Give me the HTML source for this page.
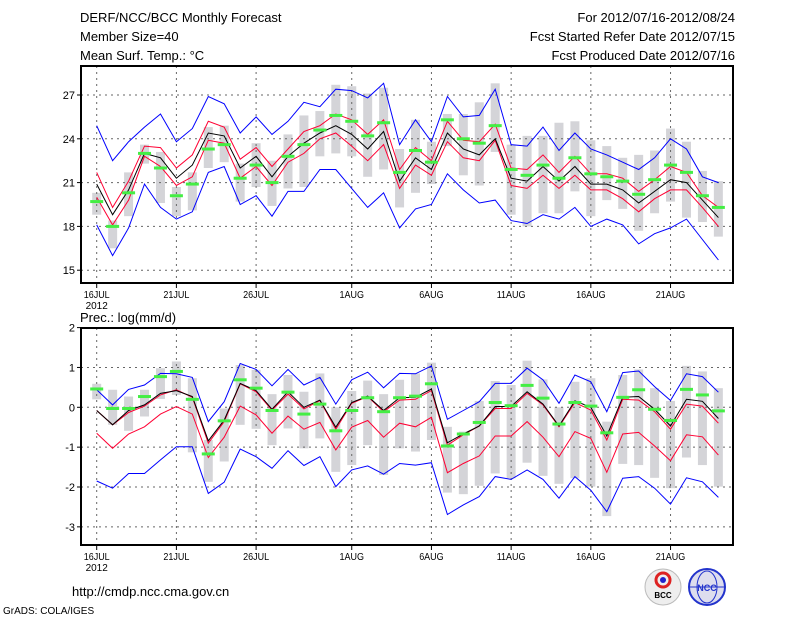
<!DOCTYPE html>
<html><head><meta charset="utf-8"><style>
body{margin:0;background:#fff;width:800px;height:618px;overflow:hidden}
svg{display:block}
text{font-family:"Liberation Sans",sans-serif;fill:#000}
</style></head><body>
<svg id="c" width="800" height="618" viewBox="0 0 800 618">
<g font-size="13">
<text x="80" y="22">DERF/NCC/BCC Monthly Forecast</text>
<text x="80" y="41">Member Size=40</text>
<text x="80" y="60">Mean Surf. Temp.: °C</text>
<text x="735" y="22" text-anchor="end">For 2012/07/16-2012/08/24</text>
<text x="735" y="41" text-anchor="end">Fcst Started Refer Date 2012/07/15</text>
<text x="735" y="60" text-anchor="end">Fcst Produced Date 2012/07/16</text>
<text x="80" y="322" font-size="13">Prec.: log(mm/d)</text>
</g>
<text x="72" y="596" font-size="13">http://cmdp.ncc.cma.gov.cn</text>
<text x="3" y="614" font-size="10">GrADS: COLA/IGES</text>
<g><circle cx="663" cy="587" r="18" fill="#eee" stroke="#bbb"/><circle cx="663" cy="580" r="7" fill="none" stroke="#d22" stroke-width="3"/><circle cx="663" cy="580" r="3" fill="#22c"/><text x="663" y="598" font-size="8" text-anchor="middle" font-weight="bold">BCC</text></g>
<g><circle cx="707" cy="587" r="18" fill="#dde" stroke="#23c" stroke-width="2"/><ellipse cx="707" cy="587" rx="10" ry="16" fill="none" stroke="#23c"/><line x1="689" y1="587" x2="725" y2="587" stroke="#23c"/><text x="707" y="591" font-size="9" text-anchor="middle" font-weight="bold" style="fill:#23c">NCC</text></g>
<g id="top"></g><g id="bot"></g>
</svg>
<script>
var dayLabels=["16JUL","21JUL","26JUL","1AUG","6AUG","11AUG","16AUG","21AUG"];
var labelDays=[0,5,10,16,21,26,31,36];
var tTicks=[15,18,21,24,27];
var pTicks=[-3,-2,-1,0,1,2];
var tMax=[24.9,22.5,23.8,24.8,25.7,23.8,24.7,26.9,26.4,24.4,25.5,24.3,25.2,26.5,26.2,27.4,27.3,26.8,27.8,23.6,25.3,23.8,26.9,25.5,25.6,27.4,23.6,23.5,24.8,23.2,24.4,23.3,22.9,22.4,21.9,22.7,24.0,23.3,21.4,21.0];
var tMin=[18.1,16.0,17.9,20.9,19.3,18.5,19.0,21.7,22.1,19.5,20.1,18.7,20.4,20.4,21.9,21.9,20.6,19.3,20.3,17.9,19.2,19.5,21.6,20.5,19.6,19.8,18.4,18.2,18.8,18.5,19.3,18.0,18.5,18.1,16.8,17.5,17.9,18.5,17.1,15.7];
var tUp=[21.7,19.3,21.1,23.5,23.4,22.0,22.9,25.2,24.8,22.6,23.4,22.1,23.3,24.5,24.9,25.7,25.3,24.3,25.3,21.9,23.4,22.5,25.2,23.9,23.8,25.0,22.0,21.9,22.9,21.7,22.8,21.6,21.6,21.3,20.4,21.2,22.1,21.7,20.1,19.3];
var tLow=[20.0,18.1,19.8,22.8,22.1,20.8,21.4,23.9,23.7,21.3,22.1,20.8,22.4,23.0,24.0,24.4,23.5,22.5,23.6,20.6,22.2,21.5,23.8,22.7,22.5,23.9,20.8,20.6,21.5,20.6,21.5,20.5,20.5,19.9,19.0,19.9,20.5,20.5,19.3,18.0];
var tMean=[20.9,18.8,20.5,23.0,22.7,21.3,22.2,24.4,24.2,22.0,22.8,21.4,22.8,23.7,24.4,24.9,24.3,23.3,24.5,21.1,22.7,21.9,24.4,23.3,22.9,24.0,21.3,21.1,22.1,21.1,22.1,20.9,20.9,20.5,19.6,20.4,21.2,21.0,19.8,18.6];
var tObs=[19.7,18.0,20.3,23.0,22.0,20.1,20.9,23.3,23.6,21.3,22.2,21.0,22.8,23.6,24.6,25.6,25.2,24.2,25.1,21.7,23.2,22.4,25.3,24.0,23.7,24.9,21.9,21.5,22.2,21.3,22.7,21.6,21.4,21.1,20.2,21.2,22.2,21.7,20.1,19.3];
var tBoxHi=[20.3,18.4,21.7,23.6,23.1,20.7,21.7,24.8,24.9,22.3,23.7,22.5,24.3,25.6,25.9,27.7,27.6,27.1,27.5,23.3,25.3,23.8,25.7,25.7,26.5,27.8,23.6,24.2,24.2,25.1,25.2,23.9,23.5,22.7,22.9,23.2,24.7,23.8,21.8,21.1];
var tBoxLo=[18.8,16.5,18.7,22.3,19.6,18.7,19.1,22.0,22.4,19.7,20.7,19.4,20.6,20.7,22.8,23.0,22.8,21.4,21.9,19.3,20.3,20.9,23.5,21.5,20.8,23.1,18.8,18.0,18.9,18.9,20.4,18.7,19.8,19.2,17.7,18.9,19.7,18.6,18.3,17.3];
var pMax=[0.44,0.06,0.45,0.56,0.85,0.84,0.75,-0.36,0.14,1.10,0.95,0.54,0.95,0.56,0.75,0.08,0.69,0.88,0.49,0.85,0.84,1.04,-0.30,-0.08,0.14,0.60,0.60,0.98,0.69,0.10,0.81,0.64,-0.11,0.87,0.91,0.52,0.17,0.84,0.77,0.38];
var pMin=[-1.85,-2.03,-1.66,-1.66,-1.32,-0.99,-0.99,-2.16,-1.88,-1.05,-1.24,-1.53,-1.09,-1.46,-1.24,-1.99,-1.57,-1.47,-1.68,-1.41,-1.45,-1.39,-2.69,-2.45,-2.24,-1.74,-1.81,-1.57,-1.81,-2.28,-1.74,-2.08,-2.62,-1.78,-1.74,-2.03,-2.43,-1.77,-1.87,-2.26];
var pUp=[-0.08,-0.44,-0.13,0.03,0.31,0.44,0.25,-0.90,-0.36,0.59,0.39,-0.07,0.33,-0.04,0.17,-0.55,0.10,0.27,-0.11,0.18,0.20,0.42,-0.95,-0.69,-0.47,-0.03,-0.03,0.35,0.06,-0.49,0.12,-0.07,-0.82,0.20,0.18,-0.11,-0.55,0.08,0.03,-0.40];
var pMean=[-0.08,-0.44,-0.08,0.06,0.35,0.42,0.27,-0.84,-0.32,0.60,0.42,-0.05,0.39,0,0.18,-0.50,0.12,0.28,-0.08,0.24,0.25,0.46,-0.89,-0.67,-0.47,0.02,0.02,0.39,0.08,-0.47,0.16,0,-0.72,0.25,0.27,-0.05,-0.47,0.20,0.15,-0.28];
var pLow=[-0.65,-1.03,-0.67,-0.49,-0.17,0.02,-0.17,-1.26,-0.75,0.03,-0.19,-0.65,-0.22,-0.55,-0.38,-1.07,-0.50,-0.33,-0.75,-0.40,-0.49,-0.25,-1.64,-1.41,-1.22,-0.72,-0.72,-0.36,-0.75,-1.24,-0.61,-0.78,-1.63,-0.67,-0.63,-0.97,-1.34,-0.69,-0.74,-1.20];
var pObs=[0.46,-0.03,-0.03,0.27,0.77,0.90,0.20,-1.17,-0.34,0.69,0.48,-0.08,0.38,-0.17,0.08,-0.59,-0.08,0.24,-0.11,0.24,0.28,0.59,-0.97,-0.67,-0.38,0.12,0.04,0.55,0.23,-0.42,0.12,0.03,-0.64,0.25,0.44,-0.05,-0.33,0.45,0.31,-0.09];
var pBoxHi=[0.59,0.44,0.27,0.44,0.98,1.15,0.73,-0.82,-0.03,1.06,0.94,0.33,0.81,0.39,0.85,0,0.41,0.67,0.33,0.69,0.85,1.12,-0.49,-0.61,0.16,0.66,0.56,1.17,0.70,0,0.64,0.73,-0.36,0.81,0.95,0.48,0.16,1.04,0.90,0.48];
var pBoxLo=[0.20,-0.44,-0.59,-0.23,0.21,0.31,-1.13,-1.87,-1.36,-0.44,-0.54,-0.95,-0.53,-1.03,-0.78,-1.62,-1.45,-0.95,-1.70,-1.03,-1.11,-0.82,-2.14,-2.18,-1.97,-1.66,-1.78,-1.39,-1.72,-1.92,-1.78,-1.99,-2.73,-1.42,-1.45,-1.77,-2.03,-1.26,-1.45,-1.99];

var NS="http://www.w3.org/2000/svg";
function mk(parent,tag,attrs){var e=document.createElementNS(NS,tag);for(var k in attrs)e.setAttribute(k,attrs[k]);parent.appendChild(e);return e;}
var L=81,R=733;
function xDay(i){return 96.7+i*15.94;}
function panel(g,top,bot,yOf,ticks,name,ser){
  var clip=mk(g,"clipPath",{id:"clip"+name});mk(clip,"rect",{x:L,y:top,width:R-L,height:bot-top});
  var bars=mk(g,"g",{"clip-path":"url(#clip"+name+")"});
  for(var i=0;i<ser.hi.length;i++){
    var r=mk(bars,"rect",{x:xDay(i)-4.5,y:yOf(ser.hi[i]),width:9,height:yOf(ser.lo[i])-yOf(ser.hi[i]),fill:"#d4d4d8"});
    
    
  }
  ticks.forEach(function(t){var y=yOf(t);if(y>top+2&&y<bot-2){var l=mk(g,"line",{x1:L,x2:R,y1:y,y2:y,stroke:"#666","stroke-dasharray":"2,4","stroke-width":1});
    }
    var tx=mk(g,"text",{x:L-6,y:y+4,"text-anchor":"end","font-size":11});tx.textContent=t;
    
    mk(g,"line",{x1:L-4,x2:L,y1:y,y2:y,stroke:"#000"});});
  labelDays.forEach(function(d,k){var x=xDay(d);
    var l=mk(g,"line",{x1:x,x2:x,y1:top,y2:bot,stroke:"#666","stroke-dasharray":"2,4"});
    
    mk(g,"line",{x1:x,x2:x,y1:bot,y2:bot+5,stroke:"#000"});
    var tx=mk(g,"text",{x:x,y:bot+15,"text-anchor":"middle","font-size":10,transform:"translate("+x+",0) scale(0.9,1) translate("+(-x)+",0)"});tx.textContent=dayLabels[k];
    });
  var yr=mk(g,"text",{x:xDay(0),y:bot+26,"text-anchor":"middle","font-size":10});yr.textContent="2012";
  
  var lines=mk(g,"g",{"clip-path":"url(#clip"+name+")"});
  [[ser.max,"#0000ff","max-line"],[ser.min,"#0000ff","min-line"],[ser.up,"#ff0033","upper-line"],[ser.low,"#ff0033","lower-line"],[ser.mean,"#000","mean-line"]].forEach(function(s){
    var p=s[0].map(function(v,i){return xDay(i).toFixed(1)+","+yOf(v).toFixed(1);}).join(" ");
    var pl=mk(lines,"polyline",{points:p,fill:"none",stroke:s[1],"stroke-width":1});
    });
  for(var i=0;i<ser.obs.length;i++){
    var o=mk(lines,"rect",{x:xDay(i)-6.5,y:yOf(ser.obs[i])-1.5,width:13,height:3,fill:"#44ee44"});
    }
  var fr=mk(g,"rect",{x:L,y:top,width:R-L,height:bot-top,fill:"none",stroke:"#000","stroke-width":2});
  
}
var gt=document.getElementById("top");


panel(gt,66,283,function(v){return 95+(27-v)*14.6;},tTicks,"t",{max:tMax,min:tMin,up:tUp,low:tLow,mean:tMean,obs:tObs,hi:tBoxHi,lo:tBoxLo});
var gb=document.getElementById("bot");


panel(gb,328,545,function(v){return 407.3-v*39.85;},pTicks,"p",{max:pMax,min:pMin,up:pUp,low:pLow,mean:pMean,obs:pObs,hi:pBoxHi,lo:pBoxLo});
</script>
</body></html>
